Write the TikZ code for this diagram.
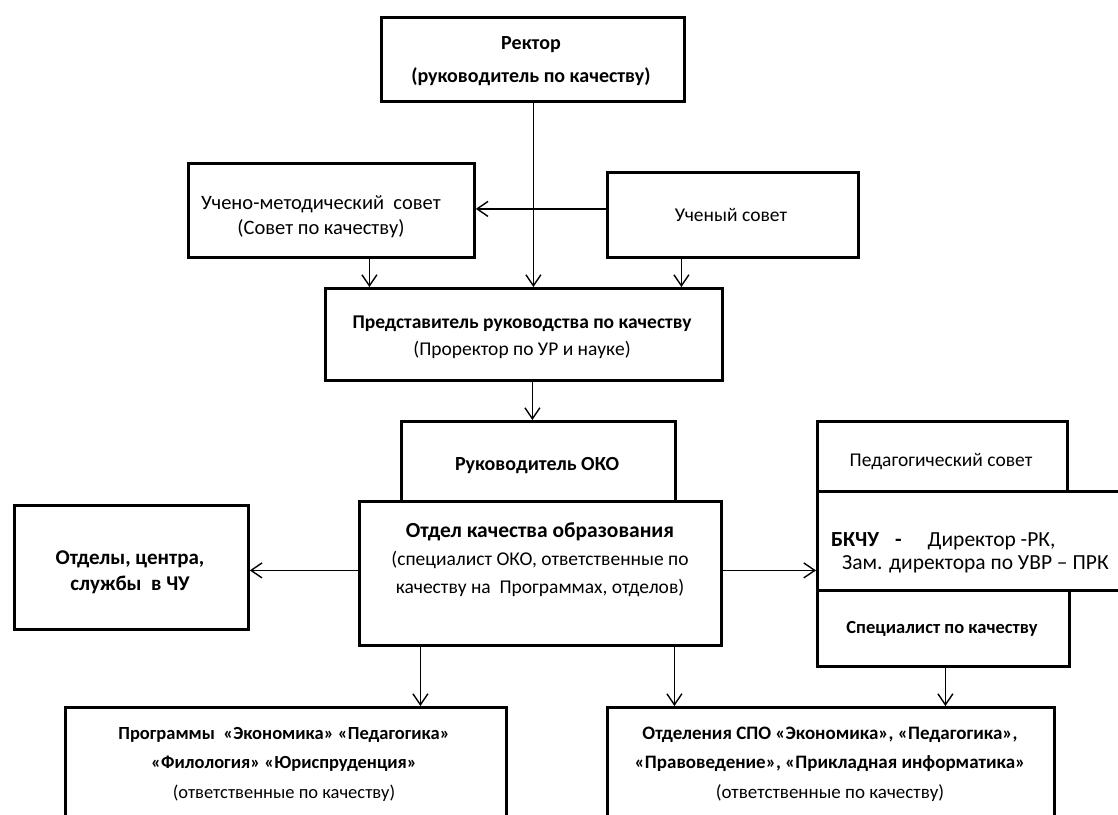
\documentclass[tikz,border=0pt]{standalone}
\usepackage{fontspec}
\setmainfont{Carlito}
\usetikzlibrary{arrows.meta}
\begin{document}
\begin{tikzpicture}[x=1pt,y=-1pt,
  box/.style={draw, line width=2.8pt, inner sep=0pt, anchor=north west},
  txt/.style={align=center, inner sep=0pt},
  arr/.style={line width=1.4pt, -{Straight Barb[length=11pt,width=15pt,line width=1.4pt]}}
]
\useasboundingbox (0,0) rectangle (1118,814);
\clip (0,0) rectangle (1118,814);

% boxes
\node[box, minimum width=303pt, minimum height=84pt] (rector) at (380,16) {};
\node[box, minimum width=286pt, minimum height=94pt] (ums) at (187,162) {};
\node[box, minimum width=251pt, minimum height=85pt] (usov) at (606,171) {};
\node[box, minimum width=397pt, minimum height=92pt] (pred) at (324,287) {};
\node[box, minimum width=274pt, minimum height=80pt] (ruk) at (400,420) {};
\node[box, minimum width=362pt, minimum height=144pt] (oko) at (358,500) {};
\node[box, minimum width=234pt, minimum height=124pt] (otd) at (13,504) {};
\node[box, minimum width=250pt, minimum height=70pt] (ped) at (816,420) {};
\node[box, minimum width=340pt, minimum height=99pt] (bkchu) at (816,490) {};
\node[box, minimum width=252pt, minimum height=76pt] (spec) at (816,589) {};
\node[box, minimum width=441pt, minimum height=160pt] (prog) at (64,706) {};
\node[box, minimum width=447pt, minimum height=160pt] (spo) at (606,706) {};

% texts
\node[txt, font=\fontsize{20}{33}\selectfont\bfseries] (rectorT) at (531,61.5)
  {Ректор\\(руководитель по качеству)};
\node[txt, font=\fontsize{20.5}{25}\selectfont] (umsT) at (321,216.5)
  {Учено-методический\ \ совет\\(Совет по качеству)};
\node[txt, font=\fontsize{19.5}{25}\selectfont] (usovT) at (731,215)
  {Ученый совет};
\node[txt, font=\fontsize{19.5}{27}\selectfont] (predT) at (522,337)
  {\textbf{Представитель руководства по качеству}\\(Проректор по УР и науке)};
\node[txt, font=\fontsize{20}{25}\selectfont\bfseries] (rukT) at (537,466)
  {Руководитель ОКО};
\node[txt, font=\fontsize{19.5}{28}\selectfont] (okoT) at (540,560)
  {\fontsize{21.5}{28}\selectfont\textbf{Отдел качества образования}\\(специалист ОКО, ответственные по\\качеству на\ \ Программах, отделов)};
\node[txt, font=\fontsize{21}{26}\selectfont\bfseries] (otdT) at (130,572)
  {Отделы, центра,\\службы\ \ в ЧУ};
\node[txt, font=\fontsize{19.5}{25}\selectfont] (pedT) at (941,462)
  {Педагогический совет};
\node[txt, anchor=west, font=\fontsize{21.5}{26}\selectfont] (bkT1) at (831,541)
  {\textbf{БКЧУ}\hspace{16pt}\textbf{-}\hspace{26pt}Директор -РК,};
\node[txt, anchor=west, font=\fontsize{21.5}{26}\selectfont] (bkT2) at (842,564)
  {Зам. директора по УВР – ПРК};
\node[txt, font=\fontsize{18.5}{25}\selectfont\bfseries] (specT) at (942,629)
  {Специалист по качеству};
\node[txt, font=\fontsize{18.5}{29.5}\selectfont] (progT) at (284,764)
  {\textbf{Программы\ \ «Экономика» «Педагогика»}\\\textbf{«Филология» «Юриспруденция»}\\(ответственные по качеству)};
\node[txt, font=\fontsize{19}{29.5}\selectfont] (spoT) at (830,764)
  {\textbf{Отделения СПО «Экономика», «Педагогика»,}\\\textbf{«Правоведение», «Прикладная информатика»}\\(ответственные по качеству)};

% connectors
\draw[arr] ([xshift=0.5pt]rector.south) -- ([xshift=0.5pt]rector.south |- pred.north);
\draw[arr] ([yshift=6pt]usov.west) -- ([yshift=6pt]usov.west -| ums.east);
\draw[arr] ([xshift=38pt]ums.south) -- ([xshift=38pt]ums.south |- pred.north);
\draw[arr] ([xshift=-51.5pt]usov.south) -- ([xshift=-51.5pt]usov.south |- pred.north);
\draw[arr] ([xshift=-6pt]ruk.north |- pred.south) -- ([xshift=-6pt]ruk.north);
\draw[arr] ([yshift=3pt]oko.west) -- ([yshift=3pt]oko.west -| otd.east);
\draw[arr] ([yshift=3pt]oko.east) -- ([yshift=3pt]oko.east -| bkchu.west);
\draw[arr] ([xshift=-120pt]oko.south) -- ([xshift=-120pt]oko.south |- prog.north);
\draw[arr] ([xshift=134pt]oko.south) -- ([xshift=134pt]oko.south |- spo.north);
\draw[arr] ([xshift=2pt]spec.south) -- ([xshift=2pt]spec.south |- spo.north);
\end{tikzpicture}
\end{document}
